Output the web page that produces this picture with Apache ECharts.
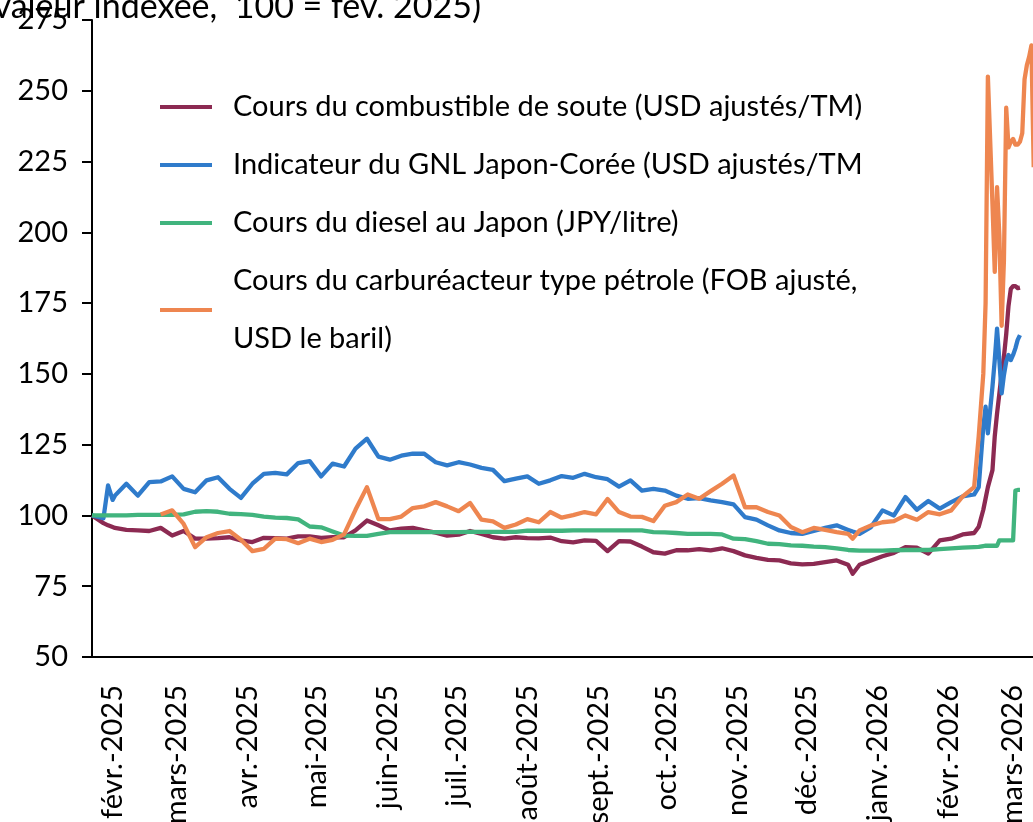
<!DOCTYPE html>
<html><head><meta charset="utf-8">
<script src="https://cdn.jsdelivr.net/npm/echarts@6/dist/echarts.min.js"></script>
<style>html,body{margin:0;padding:0;background:#fff}#c{width:1033px;height:822px}</style>
</head><body><div id="c"></div>
<script>
const dates = ['2025-01-23','2025-01-28','2025-01-30','2025-02-01','2025-02-02','2025-02-07','2025-02-12','2025-02-17','2025-02-22','2025-02-27','2025-03-04','2025-03-09','2025-03-14','2025-03-19','2025-03-24','2025-03-29','2025-04-03','2025-04-08','2025-04-13','2025-04-18','2025-04-23','2025-04-28','2025-05-03','2025-05-08','2025-05-13','2025-05-18','2025-05-23','2025-05-28','2025-06-02','2025-06-07','2025-06-12','2025-06-17','2025-06-22','2025-06-27','2025-07-02','2025-07-07','2025-07-12','2025-07-17','2025-07-22','2025-07-27','2025-08-01','2025-08-06','2025-08-11','2025-08-16','2025-08-21','2025-08-26','2025-08-31','2025-09-05','2025-09-10','2025-09-15','2025-09-20','2025-09-25','2025-09-30','2025-10-05','2025-10-10','2025-10-15','2025-10-20','2025-10-25','2025-10-30','2025-11-04','2025-11-09','2025-11-14','2025-11-19','2025-11-24','2025-11-29','2025-12-04','2025-12-09','2025-12-14','2025-12-19','2025-12-21','2025-12-24','2025-12-29','2026-01-03','2026-01-08','2026-01-13','2026-01-18','2026-01-23','2026-01-28','2026-02-02','2026-02-07','2026-02-12','2026-02-14','2026-02-16','2026-02-17','2026-02-18','2026-02-20','2026-02-21','2026-02-22','2026-02-23','2026-02-24','2026-02-25','2026-02-26','2026-02-27','2026-02-28','2026-03-01','2026-03-02','2026-03-03','2026-03-04','2026-03-05','2026-03-06','2026-03-07','2026-03-08','2026-03-09','2026-03-10'];

const bunker = [100,97.3,96.5,95.9,95.6,94.9,94.7,94.5,95.6,92.9,94.5,91.8,91.8,92,92.3,91.2,90.6,92.1,92,91.8,92.6,92.6,92.1,92.3,
92.3,94.7,98.2,96.5,94.7,95.3,95.6,94.7,93.9,92.9,93.2,94.5,93.5,92.3,91.8,92.3,92,91.9,92.2,90.9,
90.5,91.2,91,87.4,90.9,90.8,89,87,86.5,87.7,87.7,88.1,87.7,88.4,87.4,85.9,85,84.3,84.1,83.1,82.7,
82.9,83.5,84.1,82.6,79.4,82.6,84.1,85.6,86.8,88.8,88.6,86.5,91.2,91.8,93.3,93.8,
96,102,106,110,116,128,136,143,150,156,164,174,180,181,181,180.3,180.5,null,null,null,null,null,null];

const lng = [100,99,110.6,105.5,107,111.2,107,111.8,112,113.8,109.4,108.2,112.4,113.5,109.4,106.2,111.2,114.7,115,114.5,118.5,119.2,113.8,118.3,
117.3,123.6,127.1,120.8,119.7,121.1,121.8,121.8,118.8,117.7,118.8,118,116.8,116.1,112.1,113,113.8,111.2,112.4,113.9,
113.3,114.7,113.5,112.8,110.2,112.4,108.8,109.4,108.8,107,105.9,106.1,105.3,104.7,103.9,99.4,98.5,96.5,94.7,93.8,93.5,
94.5,95.6,96.5,94.9,94.3,93.5,95.9,101.8,100,106.5,102,105.1,102.4,104.7,106.7,107.4,
110,131.3,138.4,129,145.5,154.9,166,154.9,143.1,149.6,154.3,156.7,154.9,156.7,159,162,163.7,null,null,null,null,null,null];

const diesel = [100,100,100,100,100,100,100.2,100.2,100.2,100.2,100.4,101.3,101.5,101.3,100.6,100.5,100.2,99.6,99.2,99.1,98.6,96.1,95.8,94.3,
92.9,92.8,92.8,93.5,94.1,94.1,94.1,94.1,94.1,94.1,94.1,94.2,94.2,94.2,94.2,94.2,94.6,94.6,94.6,94.6,
94.7,94.7,94.7,94.7,94.7,94.7,94.7,94.1,94,93.8,93.5,93.5,93.5,93.3,91.8,91.6,90.9,90,89.9,89.4,89.3,
89,88.8,88.4,87.8,87.7,87.6,87.6,87.6,87.7,87.8,87.8,87.8,88.1,88.4,88.6,88.8,
88.9,89.2,89.3,89.3,89.3,89.3,89.3,91.2,91.2,91.2,91.2,91.2,91.2,91.2,108.8,109,109,null,null,null,null,null,null];

const jet = [null,null,null,null,null,null,null,null,100.3,101.8,97,88.8,92.3,93.8,94.5,91.4,87.4,88.2,91.8,91.6,90.2,91.8,90.6,91.4,
93.3,102,110,98.7,98.7,99.6,102.6,103.2,104.7,103.2,101.5,104.4,98.5,97.9,95.6,96.8,98.7,97.6,101.2,99.2,
100.1,101.2,100.4,105.8,101.2,99.6,99.5,98,103.4,104.7,107.4,105.9,108.6,111.2,114.1,102.9,102.9,101.2,100,95.9,94.1,
95.6,94.9,94.1,93.5,91.8,94.7,96.5,97.6,98,100,98.5,101.2,100.4,101.8,106.7,110,
128,150,175,255,210,186,216,199,167,190,244,230,232,233,231,231,232,235,254,259,262,266,223];

const seriesNames = ['bunker','lng','diesel','jet'];
const legendLabels = [
  'Cours du combustible de soute (USD ajustés/TM)',
  'Indicateur du GNL Japon-Corée (USD ajustés/TM',
  'Cours du diesel au Japon (JPY/litre)',
  'Cours du carburéacteur type pétrole (FOB ajusté,\nUSD le baril)'
];
const seriesColors = ['#8C2A52','#2F7BCB','#41B47E','#EE8650'];
const monthTicks = ['2025-02-01','2025-03-01','2025-04-01','2025-05-01','2025-06-01','2025-07-01','2025-08-01','2025-09-01','2025-10-01','2025-11-01','2025-12-01','2026-01-01','2026-02-01','2026-03-01'];
const monthLabels = ['févr.-2025','mars-2025','avr.-2025','mai-2025','juin-2025','juil.-2025','août-2025','sept.-2025','oct.-2025','nov.-2025','déc.-2025','janv.-2026','févr.-2026','mars-2026'];
const titleText = '(valeur indexée,  100 = fév. 2025)';
const xStart = '2025-01-23';
const xEnd = '2026-03-11';

const FONT = 'Lato, "Liberation Sans", sans-serif';
function toTime(d) { return new Date(d + 'T00:00:00Z').getTime(); }
const seriesValues = [bunker, lng, diesel, jet];
const tickTimes = monthTicks.map(toTime);

const chart = echarts.init(document.getElementById('c'), null, {renderer: 'canvas'});
chart.setOption({
  animation: false,
  backgroundColor: '#fff',
  textStyle: {fontFamily: FONT},
  title: {
    text: titleText, right: 552, top: -10, padding: 0,
    textStyle: {fontSize: 34, fontWeight: 'normal', color: '#000', fontFamily: FONT}
  },
  legend: {
    orient: 'vertical', left: 160, top: 78, padding: 0, itemWidth: 52, itemHeight: 4, itemGap: 0,
    icon: 'rect', selectedMode: false,
    data: seriesNames,
    formatter: function (n) { return legendLabels[seriesNames.indexOf(n)]; },
    textStyle: {fontSize: 29, lineHeight: 58, color: '#000', fontFamily: FONT, padding: [0, 0, 0, 16]}
  },
  grid: {left: 92, top: 20, bottom: 165, right: -3, containLabel: false, outerBoundsMode: 'none'},
  xAxis: {
    type: 'value', min: toTime(xStart), max: toTime(xEnd),
    axisLine: {show: true, onZero: false, lineStyle: {color: '#000', width: 2}},
    axisTick: {show: false},
    splitLine: {show: false},
    axisLabel: {
      customValues: tickTimes, rotate: 90, fontSize: 29, color: '#000', margin: 28, fontFamily: FONT,
      hideOverlap: false, showMinLabel: true, showMaxLabel: true,
      formatter: function (v) {
        const i = tickTimes.indexOf(v);
        return i >= 0 ? monthLabels[i] : '';
      }
    }
  },
  yAxis: {
    type: 'value', min: 50, max: 275, interval: 25,
    axisLine: {show: true, lineStyle: {color: '#000', width: 2}},
    axisTick: {show: true, length: 10, inside: false, lineStyle: {color: '#000', width: 2}},
    splitLine: {show: false},
    axisLabel: {fontSize: 29, color: '#000', margin: 24, fontFamily: FONT}
  },
  series: seriesNames.map(function (n, si) {
    return {
      name: n, type: 'line', showSymbol: false, symbol: 'none',
      color: seriesColors[si],
      lineStyle: {width: 4.3, color: seriesColors[si], join: 'round'},
      emphasis: {disabled: true},
      data: dates.map(function (d, i) { return [toTime(d), seriesValues[si][i]]; })
    };
  })
});
</script></body></html>
